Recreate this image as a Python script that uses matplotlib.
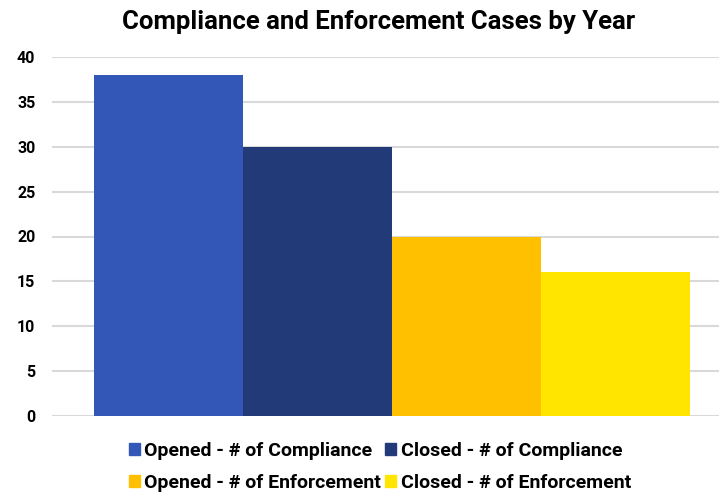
import matplotlib
matplotlib.use("Agg")
import matplotlib.pyplot as plt
import matplotlib.patches as patches

# chart data
series = ["Opened - # of Compliance", "Closed - # of Compliance",
          "Opened - # of Enforcement", "Closed - # of Enforcement"]
values = [38, 30, 20, 16]
colors = ["#3357B7", "#223A78", "#FFC000", "#FFE500"]
yticks = [0, 5, 10, 15, 20, 25, 30, 35, 40]

plt.rcParams['font.family'] = ['Roboto', 'DejaVu Sans']

fig = plt.figure(figsize=(7.19, 4.92), dpi=100)
ax = fig.add_axes([52 / 719, 76 / 492, 667 / 719, 359 / 492])

for i, (name, val, col) in enumerate(zip(series, values, colors)):
    ax.bar(i, val, width=1.0, color=col, label=name, zorder=3)

ax.set_xlim(-0.782, 3.695)
ax.set_ylim(0, 40)
ax.set_yticks(yticks)
ax.set_yticklabels([str(t) for t in yticks], fontsize=11.5, fontweight='bold')
ax.set_xticks([])
ax.tick_params(axis='y', length=0, pad=12)
ax.grid(axis='y', color='#D9D9D9', linewidth=1.5, zorder=0)
for s in ax.spines.values():
    s.set_visible(False)

fig.text(379 / 719, 1 - 22 / 492, "Compliance and Enforcement Cases by Year",
         ha='center', va='center', fontsize=18.5, fontweight='bold')

# legend fills row by row in the reference, matplotlib fills by column
order = [0, 2, 1, 3]
handles = [patches.Patch(color=colors[k]) for k in order]
labels = [series[k] for k in order]
fig.legend(handles, labels, loc='center', bbox_to_anchor=(380 / 719, 1 - 467 / 492),
           ncol=2, frameon=False, prop={'weight': 'bold', 'size': 14},
           handlelength=0.55, handleheight=0.55, handletextpad=0.25,
           columnspacing=0.2, labelspacing=0.7)

fig.savefig("out.png", dpi=100)
